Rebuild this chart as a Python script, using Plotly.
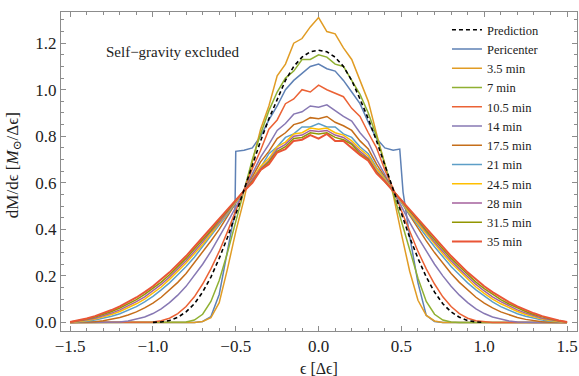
import plotly.graph_objects as go

# shared energy grid (units of Δϵ), step 0.05 from -1.5 to 1.5
eps = [round(-1.5 + 0.05 * i, 2) for i in range(61)]

prediction = [None]*10 + [
    0.0, 0.002, 0.008, 0.022, 0.045, 0.08, 0.13, 0.195, 0.275, 0.365,
    0.465, 0.57, 0.675, 0.78, 0.875, 0.96, 1.04, 1.10, 1.14, 1.163,
    1.17,
    1.163, 1.14, 1.10, 1.04, 0.96, 0.875, 0.78, 0.675, 0.57, 0.465,
    0.365, 0.275, 0.195, 0.13, 0.08, 0.045, 0.022, 0.008, 0.002, 0.0] + [None]*10

peri_eps = [-1.5, -0.75, -0.7, -0.65, -0.6, -0.55, -0.52, -0.505, -0.5,
            -0.45, -0.4, -0.35, -0.3, -0.25, -0.2, -0.15, -0.1, -0.05, 0.0,
            0.05, 0.1, 0.15, 0.2, 0.25, 0.3, 0.35, 0.4, 0.45, 0.49, 0.51,
            0.55, 0.6, 0.65, 0.7, 0.75, 1.5]
pericenter = [0, 0, 0.004, 0.025, 0.12, 0.31, 0.42, 0.46, 0.735,
              0.74, 0.75, 0.80, 0.87, 0.93, 1.0, 1.04, 1.07, 1.10, 1.11,
              1.09, 1.08, 1.04, 0.99, 0.94, 0.86, 0.79, 0.75, 0.74, 0.745, 0.56,
              0.37, 0.17, 0.03, 0.004, 0, 0]

m3_5 = [0]*16 + [
    0.004, 0.02, 0.085, 0.23, 0.39, 0.53, 0.69, 0.83, 0.93, 1.06, 1.11, 1.20, 1.22, 1.27,
    1.31,
    1.25, 1.24, 1.18, 1.13, 1.04, 0.95, 0.81, 0.68, 0.55, 0.38, 0.22, 0.095, 0.03, 0.006] + [0]*16

m7 = [0]*14 + [
    0.002, 0.01, 0.035, 0.09, 0.18, 0.30, 0.43, 0.57, 0.70, 0.81, 0.91, 0.99, 1.05, 1.08, 1.13, 1.13,
    1.15,
    1.14, 1.11, 1.10, 1.04, 0.98, 0.90, 0.80, 0.68, 0.56, 0.44, 0.31, 0.19, 0.09, 0.035, 0.01, 0.002] + [0]*14

m10_5 = [0]*10 + [
    0.002, 0.007, 0.018, 0.038, 0.068, 0.11, 0.165, 0.23, 0.305, 0.39,
    0.48, 0.57, 0.66, 0.74, 0.83, 0.87, 0.94, 0.96, 1.0, 0.99,
    1.02,
    1.0, 0.985, 0.97, 0.92, 0.885, 0.815, 0.75, 0.655, 0.575, 0.48,
    0.39, 0.305, 0.23, 0.165, 0.11, 0.068, 0.038, 0.018, 0.007, 0.002] + [0]*10

m14 = [0]*6 + [
    0.002, 0.006, 0.013, 0.023, 0.038, 0.058, 0.085, 0.117, 0.155, 0.20, 0.25, 0.305,
    0.365, 0.43, 0.495, 0.565, 0.635, 0.71, 0.765, 0.825, 0.855, 0.895, 0.905, 0.93,
    0.925,
    0.935, 0.91, 0.885, 0.865, 0.815, 0.775, 0.70, 0.635, 0.565, 0.495, 0.43, 0.365,
    0.305, 0.25, 0.20, 0.155, 0.117, 0.085, 0.058, 0.038, 0.023, 0.013, 0.006, 0.002] + [0]*6

m17_5 = [0]*2 + [
    0.001, 0.003, 0.007, 0.013, 0.021, 0.032, 0.045, 0.062, 0.083, 0.108, 0.138, 0.172, 0.21, 0.255,
    0.30, 0.35, 0.40, 0.455, 0.51, 0.565, 0.625, 0.69, 0.735, 0.79, 0.815, 0.85, 0.86, 0.88,
    0.875,
    0.885, 0.86, 0.845, 0.825, 0.78, 0.745, 0.68, 0.625, 0.565, 0.51, 0.455, 0.40, 0.35, 0.30,
    0.255, 0.21, 0.172, 0.138, 0.108, 0.083, 0.062, 0.045, 0.032, 0.021, 0.013, 0.007, 0.003, 0.001] + [0]*2

m21 = [0] + [
    0.002, 0.005, 0.01, 0.017, 0.026, 0.037, 0.051, 0.068, 0.088, 0.112, 0.14, 0.17, 0.205, 0.24, 0.28,
    0.325, 0.37, 0.415, 0.465, 0.515, 0.565, 0.62, 0.665, 0.725, 0.755, 0.795, 0.81, 0.84, 0.84,
    0.855,
    0.84, 0.84, 0.81, 0.795, 0.755, 0.725, 0.665, 0.62, 0.565, 0.515, 0.465, 0.415, 0.37, 0.325,
    0.28, 0.24, 0.205, 0.17, 0.14, 0.112, 0.088, 0.068, 0.051, 0.037, 0.026, 0.017, 0.01, 0.005, 0.002] + [0]

m24_5 = [
    0.0, 0.003, 0.008, 0.014, 0.023, 0.034, 0.047, 0.062, 0.08, 0.10, 0.125, 0.152, 0.185, 0.22, 0.255,
    0.295, 0.335, 0.38, 0.425, 0.47, 0.515, 0.565, 0.615, 0.67, 0.705, 0.755, 0.775, 0.81, 0.815, 0.835,
    0.83,
    0.835, 0.815, 0.805, 0.78, 0.745, 0.715, 0.66, 0.615, 0.565, 0.515, 0.47, 0.425, 0.38, 0.335,
    0.295, 0.255, 0.22, 0.185, 0.152, 0.125, 0.10, 0.08, 0.062, 0.047, 0.034, 0.023, 0.014, 0.008, 0.003, 0.0]

m28 = [
    0.001, 0.005, 0.011, 0.018, 0.028, 0.04, 0.054, 0.07, 0.089, 0.11, 0.135, 0.163, 0.195, 0.23, 0.265,
    0.305, 0.345, 0.39, 0.43, 0.475, 0.52, 0.565, 0.61, 0.66, 0.695, 0.745, 0.765, 0.80, 0.805, 0.825,
    0.82,
    0.825, 0.805, 0.795, 0.77, 0.735, 0.705, 0.65, 0.61, 0.565, 0.52, 0.475, 0.43, 0.39, 0.345,
    0.305, 0.265, 0.23, 0.195, 0.163, 0.135, 0.11, 0.089, 0.07, 0.054, 0.04, 0.028, 0.018, 0.011, 0.005, 0.001]

m31_5 = [
    0.002, 0.007, 0.014, 0.023, 0.034, 0.047, 0.062, 0.079, 0.098, 0.12, 0.145, 0.173, 0.205, 0.24, 0.275,
    0.315, 0.355, 0.395, 0.44, 0.48, 0.525, 0.565, 0.605, 0.655, 0.69, 0.735, 0.755, 0.79, 0.795, 0.815,
    0.81,
    0.815, 0.795, 0.785, 0.765, 0.725, 0.70, 0.645, 0.605, 0.565, 0.525, 0.48, 0.44, 0.395, 0.355,
    0.315, 0.275, 0.24, 0.205, 0.173, 0.145, 0.12, 0.098, 0.079, 0.062, 0.047, 0.034, 0.023, 0.014, 0.007, 0.002]

m35 = [
    0.002, 0.008, 0.017, 0.027, 0.039, 0.053, 0.069, 0.087, 0.107, 0.13, 0.155, 0.185, 0.215, 0.25, 0.285,
    0.325, 0.365, 0.405, 0.445, 0.485, 0.525, 0.565, 0.60, 0.655, 0.68, 0.73, 0.745, 0.78, 0.785, 0.805,
    0.79,
    0.81, 0.78, 0.78, 0.75, 0.72, 0.695, 0.64, 0.605, 0.565, 0.525, 0.485, 0.445, 0.405, 0.365,
    0.325, 0.285, 0.25, 0.215, 0.185, 0.155, 0.13, 0.107, 0.087, 0.069, 0.053, 0.039, 0.027, 0.017, 0.008, 0.002]

series_names = ["Pericenter", "3.5 min", "7 min", "10.5 min", "14 min", "17.5 min",
                "21 min", "24.5 min", "28 min", "31.5 min", "35 min"]
series_values = [pericenter, m3_5, m7, m10_5, m14, m17_5, m21, m24_5, m28, m31_5, m35]
series_colors = ["#5E81B5", "#E19C24", "#8FB032", "#EB6235", "#8778B3", "#C56E1A",
                 "#5D9EC7", "#FFBF00", "#A5609D", "#929600", "#E95536"]

x_ticks = [-1.5, -1.0, -0.5, 0.0, 0.5, 1.0, 1.5]
x_ticklabels = ["\u22121.5", "\u22121.0", "\u22120.5", "0.0", "0.5", "1.0", "1.5"]
y_ticks = [0.0, 0.2, 0.4, 0.6, 0.8, 1.0, 1.2]
y_ticklabels = ["0.0", "0.2", "0.4", "0.6", "0.8", "1.0", "1.2"]

SERIF = "Liberation Serif, Times New Roman, Tinos, DejaVu Serif, serif"

fig = go.Figure()
for name, vals, col in zip(series_names, series_values, series_colors):
    xs = peri_eps if name == "Pericenter" else eps
    fig.add_trace(go.Scatter(
        x=xs, y=vals, mode="lines", name=name,
        line=dict(color=col, width=2.0 if name == "35 min" else 1.5),
    ))
fig.add_trace(go.Scatter(
    x=eps, y=prediction, mode="lines", name="Prediction", legendrank=1,
    line=dict(color="black", width=1.6, dash="4px,3px"),
))

axis_common = dict(
    showline=True, linecolor="#8c8c8c", linewidth=1, mirror="allticks",
    ticks="inside", ticklen=5, tickcolor="#8c8c8c", showgrid=False, zeroline=False,
    tickfont=dict(family=SERIF, size=17, color="#222"),
)
fig.update_xaxes(range=[-1.555, 1.56], tickvals=x_ticks, ticktext=x_ticklabels,
                 minor=dict(ticks="inside", ticklen=3, dtick=0.1, tick0=0, tickcolor="#8c8c8c"),
                 **axis_common)
fig.update_yaxes(range=[-0.037, 1.334], tickvals=y_ticks, ticktext=y_ticklabels,
                 minor=dict(ticks="inside", ticklen=3, dtick=0.05, tick0=0, tickcolor="#8c8c8c"),
                 **axis_common)

fig.update_layout(
    width=579, height=376,
    margin=dict(l=61, r=2, t=12, b=45),
    plot_bgcolor="white", paper_bgcolor="white",
    font=dict(family=SERIF, color="#222"),
    legend=dict(x=0.748, y=0.99, xanchor="left", yanchor="top",
                bgcolor="rgba(255,255,255,0)", font=dict(family=SERIF, size=12.5, color="#222"),
                itemwidth=30, tracegroupgap=0),
    showlegend=True,
    annotations=[
        dict(text="Self\u2212gravity excluded", x=-0.88, y=1.162, xref="x", yref="y",
             showarrow=False, font=dict(family=SERIF, size=15, color="#222")),
        dict(text="\u03f5 [\u0394\u03f5]", x=0.5, y=-0.116, xref="paper", yref="paper",
             showarrow=False, font=dict(family=SERIF, size=16, color="#222"), yanchor="middle"),
        dict(text="dM/d\u03f5 [<i>M</i><sub>\u2299</sub>/\u0394\u03f5]", x=-0.091, y=0.52,
             xref="paper", yref="paper", textangle=-90, showarrow=False,
             font=dict(family=SERIF, size=17, color="#222"), xanchor="center", yanchor="middle"),
    ],
)

fig.write_html("out.html", config={"displayModeBar": False},
               post_script="document.body.style.margin='0';")
